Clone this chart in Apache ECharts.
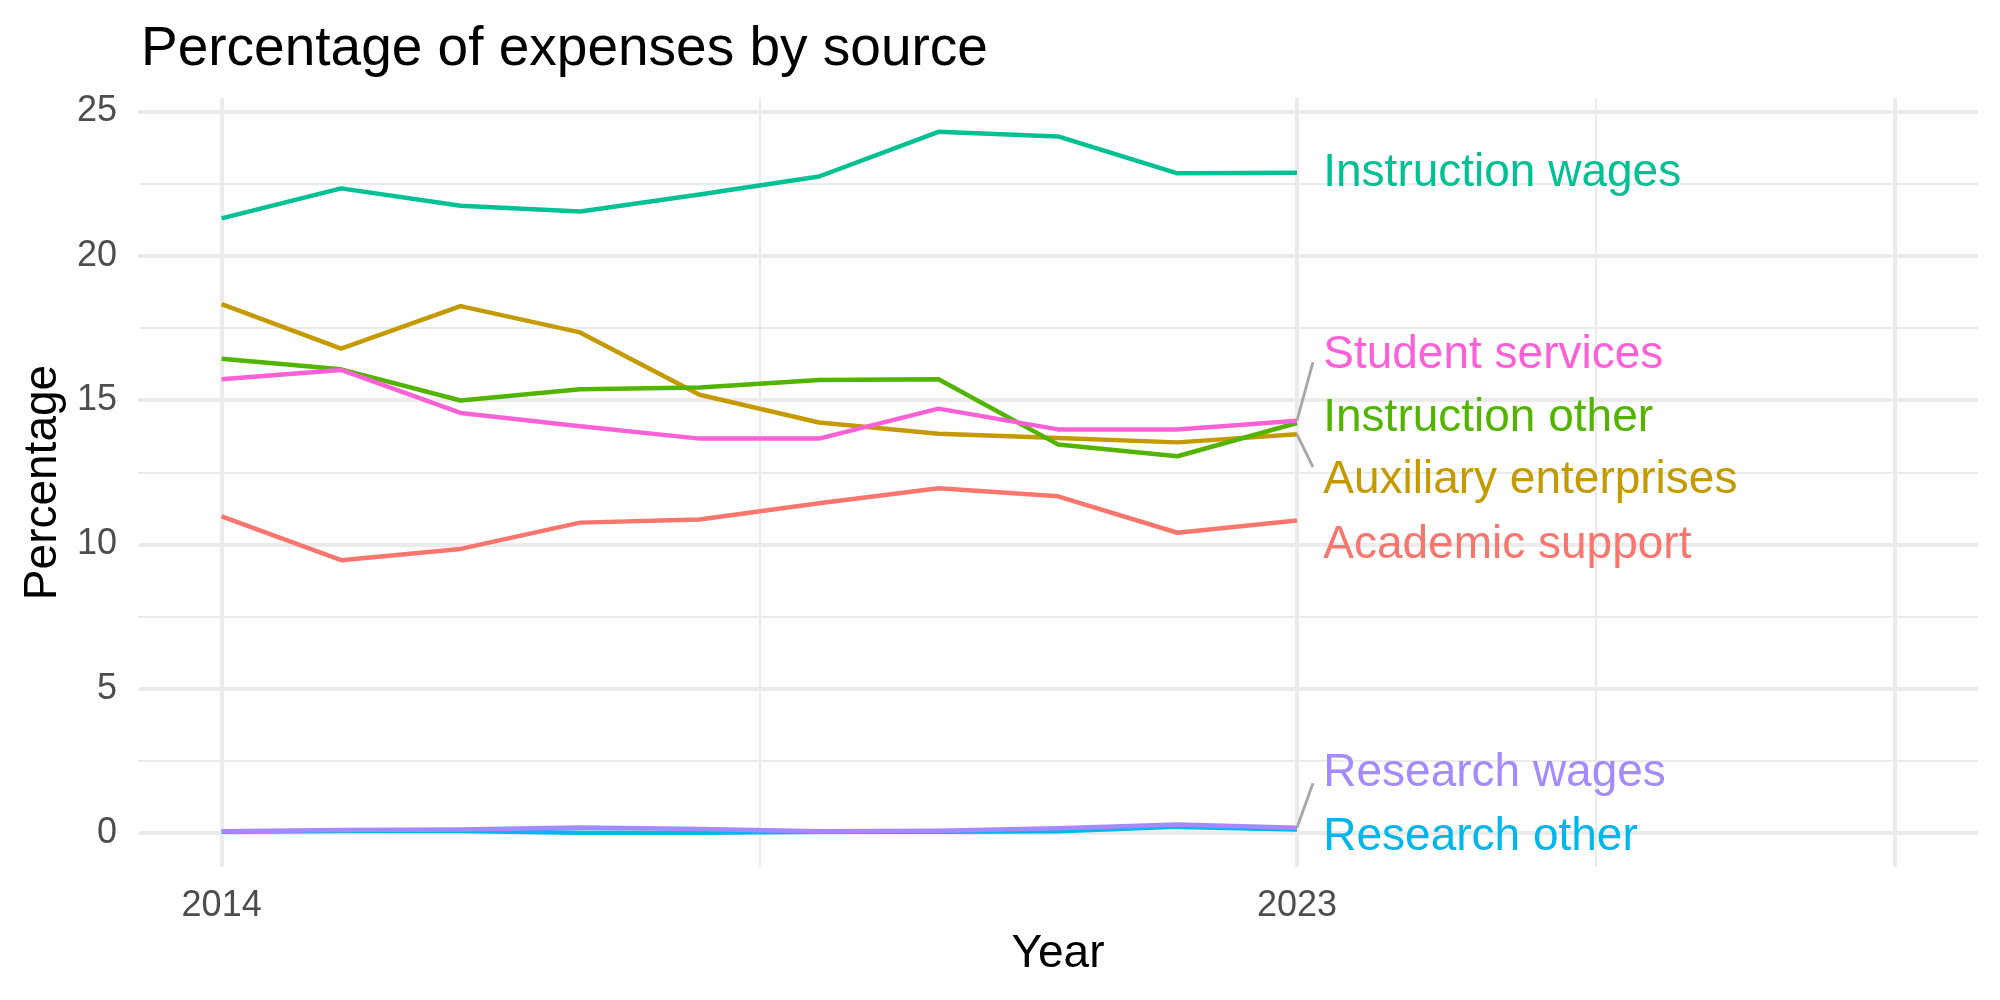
<!DOCTYPE html>
<html>
<head>
<meta charset="utf-8">
<script src="https://cdn.jsdelivr.net/npm/echarts@6/dist/echarts.min.js"></script>
<style>html,body{margin:0;padding:0;background:#fff}#c{width:2000px;height:1000px}</style>
</head>
<body>
<div id="c"></div>
<script>
const years = [2014, 2015, 2016, 2017, 2018, 2019, 2020, 2021, 2022, 2023];
const seriesNames = ['Academic support', 'Auxiliary enterprises', 'Instruction other', 'Instruction wages', 'Research other', 'Research wages', 'Student services'];
const academicSupport = [10.98, 9.46, 9.85, 10.76, 10.87, 11.43, 11.95, 11.67, 10.41, 10.83];
const auxiliaryEnterprises = [18.33, 16.79, 18.26, 17.35, 15.19, 14.23, 13.84, 13.69, 13.54, 13.82];
const instructionOther = [16.44, 16.07, 14.99, 15.38, 15.44, 15.70, 15.73, 13.47, 13.06, 14.21];
const instructionWages = [21.30, 22.34, 21.74, 21.54, 22.13, 22.75, 24.30, 24.14, 22.86, 22.88];
const researchOther = [0.05, 0.08, 0.08, 0.02, 0.02, 0.05, 0.05, 0.07, 0.22, 0.13];
const researchWages = [0.07, 0.11, 0.13, 0.20, 0.15, 0.07, 0.09, 0.17, 0.30, 0.19];
const studentServices = [15.73, 16.05, 14.56, 14.10, 13.67, 13.67, 14.71, 13.99, 13.99, 14.29];
const colors = ['#F8766D', '#C49A00', '#53B400', '#00C094', '#00B6EB', '#A58AFF', '#FB61D7'];
// label positions (repelled text), and leader segment ends (null = no segment)
const labelY = [9.98, 12.23, 14.38, 22.87, -0.14, 2.08, 16.56];
const leaderEndY = [null, 12.68, null, null, null, 1.73, 16.32];
const labelX = 2023.22;
const leaderEndX = 2023.134;
const yMajor = [0, 5, 10, 15, 20, 25];
const yMinor = [2.5, 7.5, 12.5, 17.5, 22.5];
const xMajor = [2014, 2023, 2028];
const xMinor = [2018.5, 2025.5];
const xTickLabels = [2014, 2023];

const values = [academicSupport, auxiliaryEnterprises, instructionOther, instructionWages, researchOther, researchWages, studentServices];
const FONT = 'Liberation Sans';
const gridColor = '#EBEBEB';

const gridLines = [];
yMajor.forEach(v => gridLines.push({ yAxis: v, lineStyle: { width: 4, color: gridColor, type: 'solid' } }));
yMinor.forEach(v => gridLines.push({ yAxis: v, lineStyle: { width: 2, color: gridColor, type: 'solid' } }));
xMajor.forEach(v => gridLines.push({ xAxis: v, lineStyle: { width: 4, color: gridColor, type: 'solid' } }));
xMinor.forEach(v => gridLines.push({ xAxis: v, lineStyle: { width: 2, color: gridColor, type: 'solid' } }));

const series = [{
  type: 'line', data: [], z: 0, silent: true,
  markLine: { z: 0, silent: true, symbol: ['none', 'none'], label: { show: false }, animation: false, data: gridLines }
}];

values.forEach((vals, i) => {
  series.push({
    name: seriesNames[i], type: 'line', z: 10 + i,
    data: years.map((y, j) => [y, vals[j]]),
    showSymbol: false, symbol: 'none',
    lineStyle: { color: colors[i], width: 4.5, join: 'round', cap: 'butt' },
    itemStyle: { color: colors[i] }
  });
});

values.forEach((vals, i) => {
  if (leaderEndY[i] !== null) {
    series.push({
      type: 'line', z: 20, silent: true, showSymbol: false, symbol: 'none',
      data: [[years[years.length - 1], vals[vals.length - 1]], [leaderEndX, leaderEndY[i]]],
      lineStyle: { color: '#A6A6A6', width: 2.8 }
    });
  }
});

series.push({
  type: 'scatter', z: 21, silent: true, symbolSize: 0,
  itemStyle: { opacity: 1 },
  data: seriesNames.map((n, i) => ({
    value: [labelX, labelY[i]], name: n,
    label: { color: colors[i], opacity: 1 }
  })),
  label: {
    show: true, position: 'right', distance: 0, formatter: p => p.name,
    fontFamily: FONT, fontSize: 46, opacity: 1
  }
});

const chart = echarts.init(document.getElementById('c'), null, { renderer: 'canvas' });
chart.setOption({
  animation: false,
  backgroundColor: '#ffffff',
  title: {
    text: 'Percentage of expenses by source', left: 136, top: 17,
    textStyle: { fontFamily: FONT, fontSize: 55, fontWeight: 'normal', color: '#000000', lineHeight: 55 }
  },
  grid: { left: 138, right: 22, top: 98, bottom: 133, containLabel: false },
  xAxis: {
    type: 'value', min: 2013.3, max: 2028.7,
    name: 'Year', nameLocation: 'middle', nameGap: 64,
    nameTextStyle: { fontFamily: FONT, fontSize: 46, color: '#000000' },
    axisLine: { show: false }, axisTick: { show: false }, splitLine: { show: false },
    axisLabel: { customValues: xTickLabels, fontFamily: FONT, fontSize: 36, color: '#4D4D4D', margin: 21, formatter: v => String(v) }
  },
  yAxis: {
    type: 'value', min: -1.17, max: 25.47,
    name: 'Percentage', nameLocation: 'middle', nameGap: 72, nameRotate: 90,
    nameTextStyle: { fontFamily: FONT, fontSize: 46, color: '#000000' },
    axisLine: { show: false }, axisTick: { show: false }, splitLine: { show: false },
    axisLabel: { customValues: yMajor, fontFamily: FONT, fontSize: 36, color: '#4D4D4D', margin: 21, formatter: v => String(v) }
  },
  series: series
});
</script>
</body>
</html>
